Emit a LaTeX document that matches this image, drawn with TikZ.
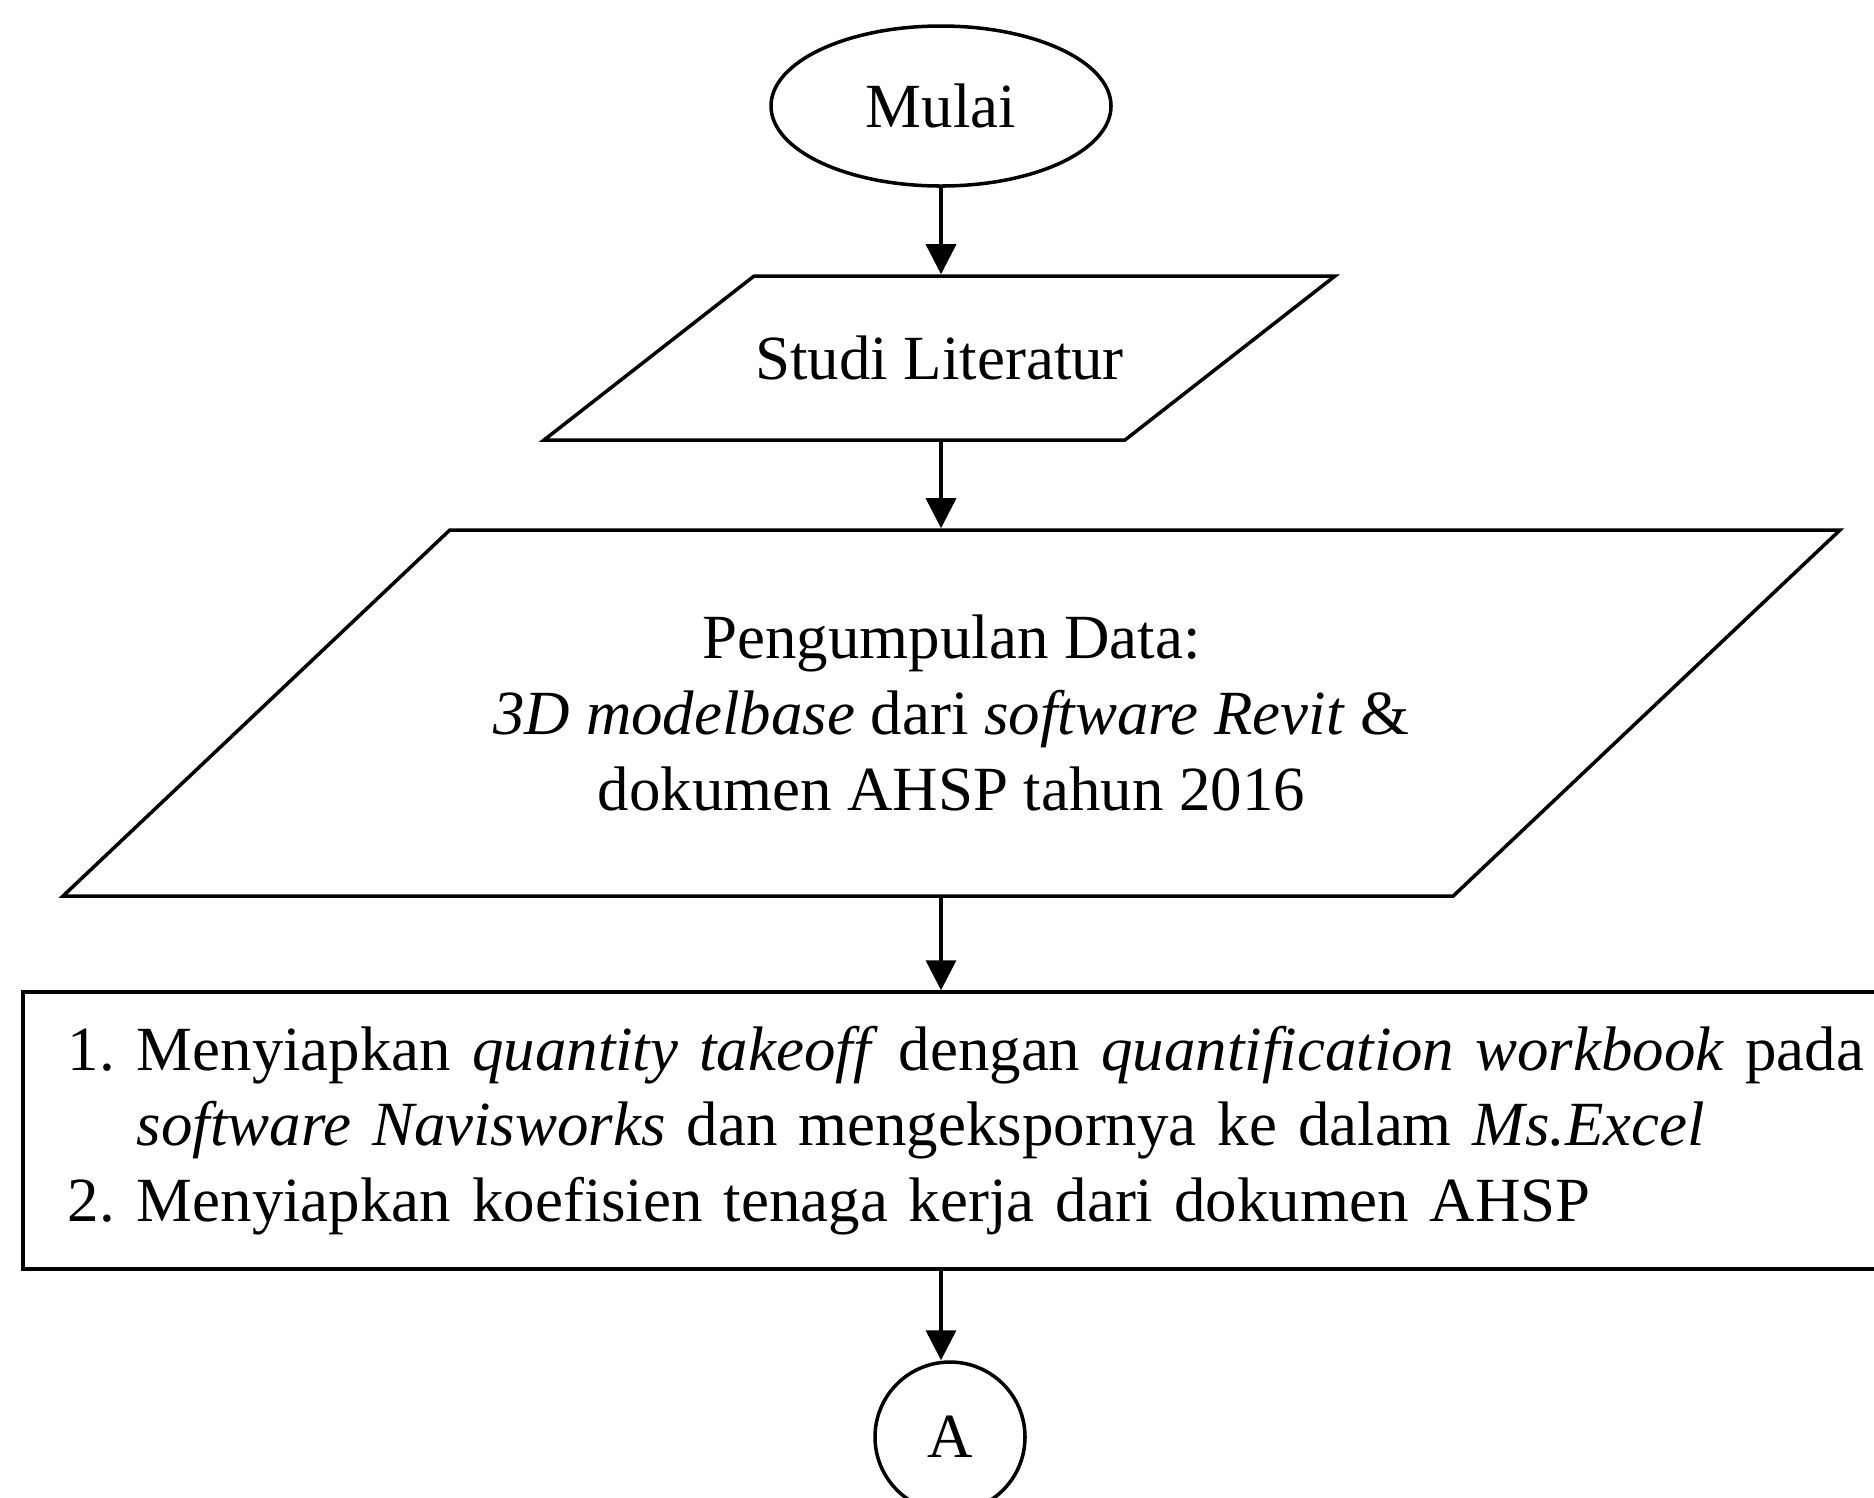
\documentclass[tikz,border=0pt]{standalone}
\usepackage{fontspec}
\setmainfont{Liberation Serif}
\usetikzlibrary{shapes.geometric,arrows.meta}

\begin{document}
\begin{tikzpicture}[
   font=\fontsize{17.9}{21.5}\selectfont,
   line width=1pt,
   start/.style={draw,ellipse,minimum width=3.4cm,minimum height=1.6cm,inner sep=0pt},
   io/.style={draw,trapezium,trapezium stretches body=true,inner sep=0pt},
   proc/.style={draw,rectangle,anchor=west,minimum width=18.9cm,minimum height=2.77cm,inner xsep=0.45cm,text width=18cm,align=left},
   conn/.style={draw,circle,minimum size=1.5cm,inner sep=0pt},
   to/.style={-{Triangle[length=0.3cm,width=0.3cm]},line width=1pt}]
\useasboundingbox (0,0) rectangle (18.74,-14.97);
\node[start] (mulai) at (9.41,-1.06) {Mulai};
\node[io,trapezium left angle=11.9,trapezium right angle=168.1,minimum width=7.91cm,minimum height=1.64cm] (studi) at (9.395,-3.58) {Studi Literatur};
\node[io,trapezium left angle=26.8,trapezium right angle=153.2,minimum width=17.77cm,minimum height=3.66cm,align=center] (data) at (9.515,-7.13)
  {Pengumpulan Data:\\ \textit{3D modelbase} dari \textit{software Revit} \&\\ dokumen AHSP tahun 2016};
\node[proc] (prep) at (0.21,-11.305)
  {\makebox[0.69cm][l]{1.}Menyiapkan \textit{quantity takeoff} dengan \textit{quantification workbook} pada\\
   \hspace*{0.69cm}\textit{software Navisworks} dan mengekspornya ke dalam \textit{Ms.Excel}\\
   \makebox[0.69cm][l]{2.}Menyiapkan koefisien tenaga kerja dari dokumen AHSP};
\node[conn] (A) at (9.5,-14.37) {A};
\draw[to] (mulai.south) -- (mulai |- studi.north);
\draw[to] (mulai |- studi.south) -- (mulai |- data.north);
\draw[to] (mulai |- data.south) -- (mulai |- prep.north);
\draw[to] (mulai |- prep.south) -- (mulai |- A.north);
\end{tikzpicture}
\end{document}
